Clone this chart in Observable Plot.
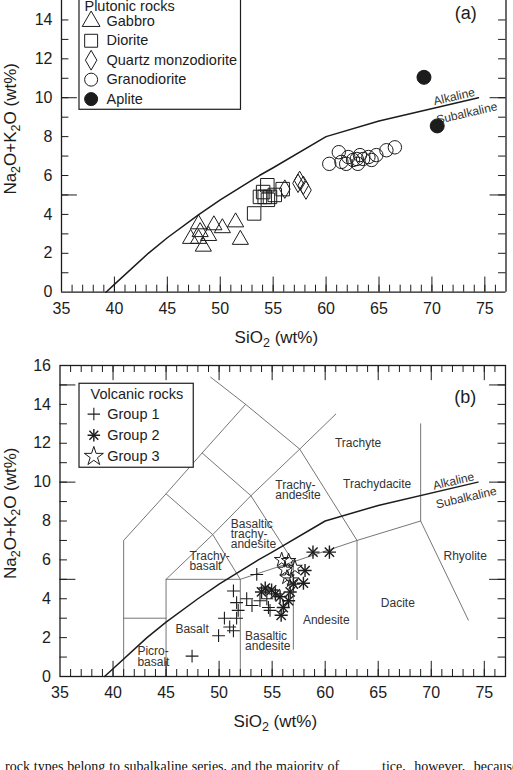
<!DOCTYPE html>
<html><head><meta charset="utf-8">
<script src="https://cdn.jsdelivr.net/npm/d3@7"></script>
<script src="https://cdn.jsdelivr.net/npm/@observablehq/plot@0.6"></script>
<style>
body{margin:0;background:#fff;}
#wrap{position:relative;width:513px;height:770px;overflow:hidden;background:#fff;}
#a,#b{position:absolute;left:0;}
#a{top:0}
#b{top:345px}
#a svg,#b svg{display:block}
.para{position:absolute;font-family:'Liberation Serif','Times New Roman',serif;font-size:14px;line-height:14px;color:#111;white-space:nowrap;top:759.6px}
</style></head>
<body><div id="wrap"><div id="a"></div><div id="b"></div>
<div class="para" style="left:5px;word-spacing:0.4px">rock types belong to subalkaline series, and the majority of</div>
<div class="para" style="left:382px;word-spacing:5px">tice, however, because</div>
</div>
<script>
// ---------- axes ----------
const siO2Ticks = [35, 40, 45, 50, 55, 60, 65, 70, 75];
const alkTicksA = [0, 2, 4, 6, 8, 10, 12, 14];
const alkTicksB = [0, 2, 4, 6, 8, 10, 12, 14, 16];
const xTitle = "SiO2 (wt%)";
const yTitle = "Na2O+K2O (wt%)";

// ---------- alkaline / subalkaline divider ----------
const dividerSi  = [39.2, 40, 43.2, 45, 48, 50, 53.7, 55, 60, 65, 74.4];
const dividerAlk = [0, 0.4, 2, 2.8, 4, 4.75, 6, 6.4, 8, 8.8, 10];
const dividerNames = ["Alkaline", "Subalkaline"];
const dividerNameSi = [72.1, 73.3];
const dividerNameAlk = [10.05, 9.2];

// ---------- (a) plutonic rocks [SiO2, Na2O+K2O] ----------
const plutonicTitle = "Plutonic rocks";
const plutonicNames = ["Gabbro", "Diorite", "Quartz monzodiorite", "Granodiorite", "Aplite"];
const gabbro = [[47.95,3.5],[49.4,3.45],[50.2,3.3],[51.45,3.6],[47.2,2.75],[47.95,2.75],[48.9,2.9],[48.4,2.35],[51.9,2.7],[48.1,3.1]];
const diorite = [[53.2,4.05],[54.45,5.5],[53.75,4.9],[54.2,4.9],[54.7,4.9],[55.15,5.0],[54.05,5.15],[55.9,5.3],[54.5,4.75]];
const quartzMonzodiorite = [[56.1,5.3],[57.5,5.75],[57.85,5.5],[58.1,5.25],[57.35,5.6]];
const granodiorite = [[60.3,6.6],[61.2,7.2],[61.45,6.7],[62.1,6.95],[62.55,6.8],[62.9,6.85],[63.2,7.05],[63.5,6.85],[64.0,6.95],[64.75,7.05],[65.7,7.3],[66.5,7.45],[63.0,6.6],[61.9,6.6],[64.3,6.8]];
const aplite = [[69.25,11.05],[70.5,8.55]];

// ---------- (b) volcanic rocks ----------
const volcanicTitle = "Volcanic rocks";
const volcanicNames = ["Group 1", "Group 2", "Group 3"];
const group1 = [[47.45,1.05],[49.95,2.1],[50.5,3.0],[51.0,2.55],[51.35,2.35],[51.35,4.4],[51.65,3.8],[51.8,3.4],[51.65,3.0],[52.6,4.0],[53.1,3.65],[53.55,5.25],[54.65,3.55],[54.8,3.4],[53.85,3.9],[54.5,4.0]];
const group2 = [[58.85,6.4],[60.4,6.4],[58.1,5.45],[57.95,4.8],[55.85,3.15],[54.35,4.55],[54.95,4.45],[54.0,4.35],[56.55,3.9],[56.05,3.55],[56.7,4.35],[55.75,4.1],[57.0,4.75],[55.3,4.25]];
const group3 = [[55.9,6.0],[56.55,5.95],[57.15,5.6],[56.2,5.5],[56.4,5.1],[56.85,4.95]];

// TAS field boundaries (polylines of [SiO2, Na2O+K2O])
const tasBoundaries = [
  [[41,0],[41,7],[45,9.4],[48.4,11.5],[52.5,14]],
  [[49.2,15.4],[52.5,14],[57.6,11.7],[63,7],[63,1.9]],
  [[45,0],[45,5],[49.4,7.3],[53,9.3],[57.6,11.7],[61,13.5]],
  [[45,9.4],[49.4,7.3],[52,5],[52,0]],
  [[48.4,11.5],[53,9.3],[57,5.9],[57,1.4]],
  [[45,5],[52,5],[57,5.9],[63,7],[69,8],[73.5,2.9]],
  [[69,8],[69,13]],
  [[41,3],[45,3]]
];
// field names: left-aligned and centred groups
const fieldNamesLeft = ["Basaltic\ntrachy-\nandesite", "Trachy-\nbasalt", "Picro-\nbasalt", "Basaltic\nandesite", "Trachy-\nandesite"];
const fieldLeftSi  = [51.1, 47.2, 42.3, 52.45, 55.3];
const fieldLeftAlk = [7.3, 5.9, 1.0, 1.8, 9.55];
const fieldNamesMid = ["Trachyte", "Trachydacite", "Basalt", "Andesite", "Dacite", "Rhyolite"];
const fieldMidSi  = [63.1, 64.9, 47.45, 60.1, 66.85, 73.2];
const fieldMidAlk = [12.0, 9.9, 2.45, 2.9, 3.75, 6.2];

// ---------- styles ----------
const ink = "#1c1c1c";
const font = "'Liberation Sans', Arial, Helvetica, sans-serif";
const plutonicStyle = [
  {symbol: "triangle", r: 6.0, fill: "none"},
  {symbol: "square", r: 7.6, fill: "none"},
  {symbol: "diamond", r: 5.6, fill: "none"},
  {symbol: "circle", r: 6.7, fill: "none"},
  {symbol: "circle", r: 7.0, fill: ink}
];
const plutonicLegendR = [6.6, 7.3, 6.0, 6.5, 6.5];

const rows = (pts) => pts.map(p => ({si: p[0], alk: p[1]}));
const dividerRows = dividerSi.map((s, i) => ({si: s, alk: dividerAlk[i]}));
const tasRows = tasBoundaries.flatMap((pl, k) => pl.map(p => ({si: p[0], alk: p[1], seg: k})));

function tickMarks(yMax, withTop) {
  const xs = d3.range(36, 77), ys = d3.range(1, yMax);
  const xM = xs.filter(v => v % 5 === 0), yM = ys.filter(v => v % 5 === 0);
  const o = {stroke: ink, strokeWidth: 1};
  const m = [
    Plot.ruleX(xs, {x: d => d, y1: 0, y2: 0.36, ...o}),
    Plot.ruleX(xM, {x: d => d, y1: 0, y2: 0.78, ...o}),
    Plot.ruleY(ys, {y: d => d, x1: 35, x2: 35.7, ...o}),
    Plot.ruleY(yM, {y: d => d, x1: 35, x2: 36.5, ...o}),
    Plot.ruleY(ys, {y: d => d, x1: 77, x2: 76.3, ...o}),
    Plot.ruleY(yM, {y: d => d, x1: 77, x2: 75.5, ...o})
  ];
  if (withTop) {
    m.push(Plot.ruleX(xs, {x: d => d, y1: yMax, y2: yMax - 0.36, ...o}));
    m.push(Plot.ruleX(xM, {x: d => d, y1: yMax, y2: yMax - 0.78, ...o}));
  }
  return m;
}

function commonMarks(yTicks, dxTitle) {
  return [
    Plot.line(dividerRows, {x: "si", y: "alk", stroke: ink, strokeWidth: 1.5}),
    Plot.text(dividerNames, {x: (d, i) => dividerNameSi[i], y: (d, i) => dividerNameAlk[i], text: d => d, rotate: -13, fontSize: 12, fill: "#333"}),
    Plot.axisX(siO2Ticks, {tickSize: 0, tickPadding: 10, fontSize: 16, label: null, fill: ink}),
    Plot.axisY(yTicks, {tickSize: 0, tickPadding: 9, fontSize: 16, label: null, fill: ink}),
    Plot.text([xTitle], {x: 55.3, frameAnchor: "bottom", dy: 45, text: d => d, textAnchor: "middle", lineAnchor: "middle", fontSize: 17, fill: ink}),
    Plot.text([yTitle], {y: 8.4, frameAnchor: "left", dx: dxTitle, rotate: -90, text: d => d, textAnchor: "middle", lineAnchor: "middle", fontSize: 17, fill: ink})
  ];
}

// ---------- panel (a) ----------
const marksA = [
  ...tickMarks(15, false),
  Plot.ruleX([35, 77], {y1: 0, y2: 15, stroke: ink, strokeWidth: 1.3}),
  Plot.ruleY([0], {stroke: ink, strokeWidth: 1.3}),
  ...commonMarks(alkTicksA, -51.3)
];
const plutonicData = [gabbro, diorite, quartzMonzodiorite, granodiorite, aplite];
plutonicData.forEach((pts, i) => {
  const st = plutonicStyle[i];
  marksA.push(Plot.dot(rows(pts), {x: "si", y: "alk", symbol: st.symbol, r: st.r, fill: st.fill, stroke: ink, strokeWidth: 1}));
});
marksA.push(Plot.rect([0], {x1: 36.7, x2: 51.96, y1: 9.38, y2: 16.5, fill: "white", stroke: ink, strokeWidth: 1.2}));
marksA.push(Plot.text([plutonicTitle], {x: 37.17, y: 14.69, text: d => d, textAnchor: "start", fontSize: 14.5, fill: ink}));
plutonicNames.forEach((name, i) => {
  const st = plutonicStyle[i];
  marksA.push(Plot.dot([name], {x: 37.8, y: 13.93 - i, symbol: st.symbol, r: plutonicLegendR[i], fill: st.fill, stroke: ink, strokeWidth: 1}));
  marksA.push(Plot.text([name], {x: 39.25, y: 13.93 - i, text: d => d, textAnchor: "start", fontSize: 14.5, fill: ink}));
});
marksA.push(Plot.text(["(a)"], {x: 73.2, y: 14.35, text: d => d, fontSize: 18, fill: ink}));

const plotA = Plot.plot({
  width: 513, height: 362,
  marginLeft: 61, marginRight: 7.5, marginTop: 0, marginBottom: 70.3,
  x: {domain: [35, 77]}, y: {domain: [0, 15]},
  style: {fontFamily: font, color: ink, background: "white"},
  marks: marksA
});

// ---------- panel (b) ----------
const tasStroke = {stroke: "#666", strokeWidth: 0.9};
const marksB = [
  Plot.line(tasRows, {x: "si", y: "alk", z: "seg", ...tasStroke}),
  Plot.text(fieldNamesLeft, {x: (d, i) => fieldLeftSi[i], y: (d, i) => fieldLeftAlk[i], text: d => d, textAnchor: "start", lineHeight: 0.86, fontSize: 12, fill: "#333"}),
  Plot.text(fieldNamesMid, {x: (d, i) => fieldMidSi[i], y: (d, i) => fieldMidAlk[i], text: d => d, fontSize: 12, fill: "#333"}),
  ...tickMarks(16, true),
  Plot.frame({stroke: ink, strokeWidth: 1.3}),
  ...commonMarks(alkTicksB, -49.8)
];
const g1 = {symbol: "plus", r: 4.2, stroke: ink, strokeWidth: 1.1};
const g2a = {symbol: "plus", r: 4.3, stroke: ink, strokeWidth: 1.4};
const g2b = {symbol: "times", r: 4.3, stroke: ink, strokeWidth: 1.4};
const g3 = {symbol: "star", r: 4.6, fill: "none", stroke: ink, strokeWidth: 1};
marksB.push(Plot.dot(rows(group1), {x: "si", y: "alk", ...g1}));
marksB.push(Plot.dot(rows(group3), {x: "si", y: "alk", ...g3}));
marksB.push(Plot.dot(rows(group2), {x: "si", y: "alk", ...g2a}));
marksB.push(Plot.dot(rows(group2), {x: "si", y: "alk", ...g2b}));
marksB.push(Plot.rect([0], {x1: 36.84, x2: 47.61, y1: 10.74, y2: 15.06, fill: "white", stroke: ink, strokeWidth: 1.2}));
marksB.push(Plot.text([volcanicTitle], {x: 37.88, y: 14.54, text: d => d, textAnchor: "start", fontSize: 14.5, fill: ink}));
const legY = (i) => 13.5 - i * 1.09;
marksB.push(Plot.dot([volcanicNames[0]], {x: 38.19, y: legY(0), ...g1, r: 4.1}));
marksB.push(Plot.dot([volcanicNames[1]], {x: 38.19, y: legY(1), ...g2a, r: 4.1}));
marksB.push(Plot.dot([volcanicNames[1]], {x: 38.19, y: legY(1), ...g2b, r: 4.1}));
marksB.push(Plot.dot([volcanicNames[2]], {x: 38.19, y: legY(2), ...g3, r: 6.0}));
marksB.push(Plot.text(volcanicNames, {x: 39.45, y: (d, i) => legY(i), text: d => d, textAnchor: "start", fontSize: 14.5, fill: ink}));
marksB.push(Plot.text(["(b)"], {x: 73.2, y: 14.35, text: d => d, fontSize: 18, fill: ink}));

const plotB = Plot.plot({
  width: 513, height: 390,
  marginLeft: 59.5, marginRight: 8, marginTop: 20, marginBottom: 59,
  x: {domain: [35, 77]}, y: {domain: [0, 16]},
  style: {fontFamily: font, color: ink, background: "transparent"},
  marks: marksB
});

// subscripts in axis titles
function subscriptify(svg) {
  svg.querySelectorAll("text").forEach(t => {
    const s = t.textContent;
    if (s === xTitle || s === yTitle) {
      const parts = s.split(/(?<=[A-Za-z])2/);
      let html = parts[0];
      for (let i = 1; i < parts.length; i++) {
        html += `<tspan dy="4" font-size="12.5">2</tspan><tspan dy="-4">${parts[i]}</tspan>`;
      }
      t.innerHTML = html;
    }
  });
}
subscriptify(plotA);
subscriptify(plotB);

document.getElementById("a").appendChild(plotA);
document.getElementById("b").appendChild(plotB);
</script>
</body></html>
